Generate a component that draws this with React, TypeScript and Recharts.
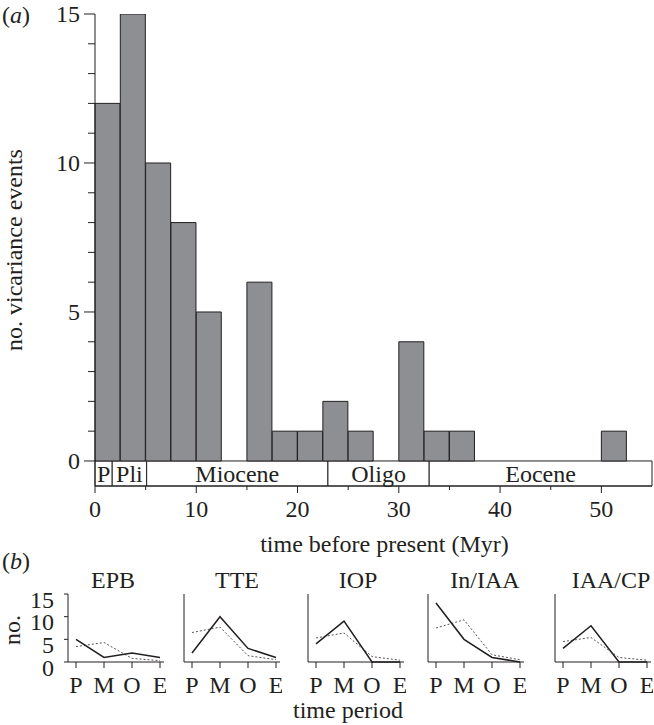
import React from "react";
import { BarChart, Bar, XAxis, YAxis, ReferenceArea, LineChart, Line } from "recharts";

const INK = "#231f20";
const BAR_FILL = "#8e8f93";
const FONT = "'Liberation Serif', 'Times New Roman', serif";

// (a) histogram, 2.5 Myr bins
const BIN_LABELS = [
  "0-2.5", "2.5-5", "5-7.5", "7.5-10", "10-12.5", "12.5-15", "15-17.5", "17.5-20",
  "20-22.5", "22.5-25", "25-27.5", "27.5-30", "30-32.5", "32.5-35", "35-37.5", "37.5-40",
  "40-42.5", "42.5-45", "45-47.5", "47.5-50", "50-52.5", "52.5-55",
];
const BIN_START = [
  0, 2.5, 5, 7.5, 10, 12.5, 15, 17.5, 20, 22.5, 25, 27.5, 30, 32.5, 35, 37.5, 40, 42.5, 45, 47.5,
  50, 52.5,
];
const EVENT_COUNTS = [12, 15, 10, 8, 5, 0, 6, 1, 1, 2, 1, 0, 4, 1, 1, 0, 0, 0, 0, 0, 1, 0];

const COUNT_TICKS = [0, 1, 2, 3, 4, 5, 6, 7, 8, 9, 10, 11, 12, 13, 14, 15];
const MYR_TICKS = [0, 5, 10, 15, 20, 25, 30, 35, 40, 45, 50];

// epoch boxes under the histogram
const EPOCH_NAMES = ["P", "Pli", "Miocene", "Oligo", "Eocene"];
const EPOCH_START = [0, 1.7, 5.1, 23, 33];
const EPOCH_END = [1.7, 5.1, 23, 33, 55];
const BAND_BOTTOM = -0.84;

// (b) small panels
const PERIODS = ["P", "M", "O", "E"];
const PANEL_NAMES = ["EPB", "TTE", "IOP", "In/IAA", "IAA/CP"];
const OBSERVED = [
  [5, 1, 2, 1],
  [2, 10, 3, 1],
  [4, 9, 0, 0],
  [13, 5, 1, 0],
  [3, 8, 0, 0],
];
const EXPECTED = [
  [3.4, 4.3, 0.8, 0.3],
  [6.5, 7.7, 1.4, 0.5],
  [5.3, 6.4, 1.2, 0.4],
  [7.5, 9.3, 1.6, 0.5],
  [4.5, 5.4, 1.0, 0.4],
];
const SMALL_TICKS = [0, 5, 10, 15];

// layout of the small panels (y-axis x position, title centre)
const PANEL_AXIS_X = [68, 184, 308, 428, 555];
const PANEL_TITLE_X = [113, 237, 358, 485, 611];

const histData = BIN_LABELS.map((bin, i) => ({ bin, start: BIN_START[i], count: EVENT_COUNTS[i] }));

const MyrTick = (props: any) => {
  const { x, y, payload } = props;
  const v = payload.value;
  const major = v % 10 === 0;
  return (
    <g>
      <line x1={x} y1={y} x2={x} y2={y + (major ? 7 : 4)} stroke={INK} strokeWidth={1} />
      {major && (
        <text x={x} y={y + 31} textAnchor="middle" fontSize={24} fill={INK}>
          {v}
        </text>
      )}
    </g>
  );
};

const CountTick = (props: any) => {
  const { x, y, payload } = props;
  const v = payload.value;
  const major = v % 5 === 0;
  return (
    <g>
      <line x1={x - (major ? 11 : 7)} y1={y} x2={x} y2={y} stroke={INK} strokeWidth={1} />
      {major && (
        <text x={x - 15} y={y + 8} textAnchor="end" fontSize={24} fill={INK}>
          {v}
        </text>
      )}
    </g>
  );
};

function Histogram() {
  return (
    <div style={{ position: "absolute", left: 0, top: 0 }}>
      <BarChart
        width={654}
        height={560}
        data={histData}
        margin={{ top: 14, right: 2, bottom: 0, left: 0 }}
        barCategoryGap={0}
        barGap={0}
      >
        <XAxis xAxisId="bins" dataKey="bin" hide height={0} />
        <XAxis
          xAxisId="myr"
          dataKey="start"
          type="number"
          domain={[0, 55]}
          allowDataOverflow
          ticks={MYR_TICKS}
          interval={0}
          height={74}
          tickSize={0}
          tickMargin={0}
          tickLine={false}
          axisLine={{ stroke: INK, strokeWidth: 1 }}
          tick={<MyrTick />}
          label={{
            value: "time before present (Myr)",
            position: "insideBottom",
            offset: 8,
            dx: 11,
            fontSize: 24,
            fill: INK,
          }}
        />
        <YAxis
          type="number"
          domain={[BAND_BOTTOM, 15]}
          allowDataOverflow
          ticks={COUNT_TICKS}
          interval={0}
          width={95}
          tickSize={0}
          tickMargin={0}
          tickLine={false}
          axisLine={{ stroke: INK, strokeWidth: 1 }}
          tick={<CountTick />}
          label={{
            value: "no. vicariance events",
            angle: -90,
            position: "insideLeft",
            offset: 13,
            fontSize: 24,
            fill: INK,
            style: { textAnchor: "middle" },
          }}
        />
        {EPOCH_NAMES.map((name, i) => (
          <ReferenceArea
            key={name}
            xAxisId="myr"
            x1={EPOCH_START[i]}
            x2={EPOCH_END[i]}
            y1={BAND_BOTTOM}
            y2={0}
            fill="#ffffff"
            fillOpacity={1}
            stroke={INK}
            strokeWidth={1}
            label={{ value: name, position: "center", fontSize: 24, fill: INK }}
          />
        ))}
        <Bar
          xAxisId="bins"
          dataKey="count"
          fill={BAR_FILL}
          stroke={INK}
          strokeWidth={1}
          isAnimationActive={false}
        />
      </BarChart>
    </div>
  );
}

function SmallPanel({ index }: { index: number }) {
  const data = PERIODS.map((p, i) => ({
    period: p,
    observed: OBSERVED[index][i],
    expected: EXPECTED[index][i],
  }));
  const first = index === 0;
  return (
    <div style={{ position: "absolute", left: PANEL_AXIS_X[index] - 40, top: 580 }}>
      <LineChart width={138} height={120} data={data} margin={{ top: 14, right: 2, bottom: 0, left: 0 }}>
        <XAxis
          dataKey="period"
          scale="point"
          padding={{ left: 8, right: 4 }}
          height={38}
          interval={0}
          tickSize={6}
          tickMargin={8}
          axisLine={{ stroke: INK, strokeWidth: 1 }}
          tickLine={{ stroke: INK, strokeWidth: 1 }}
          tick={{ fontSize: 24, fill: INK }}
        />
        <YAxis
          type="number"
          domain={[0, 15]}
          ticks={SMALL_TICKS}
          interval={0}
          width={40}
          tickSize={4}
          tickMargin={10}
          axisLine={{ stroke: INK, strokeWidth: 1 }}
          tickLine={{ stroke: INK, strokeWidth: 1 }}
          tick={first ? { fontSize: 24, fill: INK, dy: 5 } : false}
        />
        <Line
          dataKey="expected"
          stroke="#555555"
          strokeWidth={1}
          strokeDasharray="2 2"
          dot={false}
          isAnimationActive={false}
        />
        <Line dataKey="observed" stroke={INK} strokeWidth={1.5} dot={false} isAnimationActive={false} />
      </LineChart>
    </div>
  );
}

export default function App() {
  return (
    <div
      style={{
        position: "absolute",
        left: 0,
        top: 0,
        width: 654,
        height: 725,
        background: "#ffffff",
        fontFamily: FONT,
        color: INK,
      }}
    >
      <Histogram />
      {PANEL_NAMES.map((name, i) => (
        <SmallPanel key={name} index={i} />
      ))}
      <svg
        width={654}
        height={725}
        style={{ position: "absolute", left: 0, top: 0, pointerEvents: "none" }}
        fontFamily={FONT}
        fill={INK}
      >
        <text x={2} y={23} fontSize={24}>
          (<tspan fontStyle="italic">a</tspan>)
        </text>
        <text x={2} y={569} fontSize={24}>
          (<tspan fontStyle="italic">b</tspan>)
        </text>
        {PANEL_NAMES.map((name, i) => (
          <text key={name} x={PANEL_TITLE_X[i]} y={588} fontSize={24} textAnchor="middle">
            {name}
          </text>
        ))}
        <text x={20} y={630} fontSize={24} textAnchor="middle" transform="rotate(-90 20 630)">
          no.
        </text>
        <text x={293} y={718} fontSize={24}>
          time period
        </text>
      </svg>
    </div>
  );
}
